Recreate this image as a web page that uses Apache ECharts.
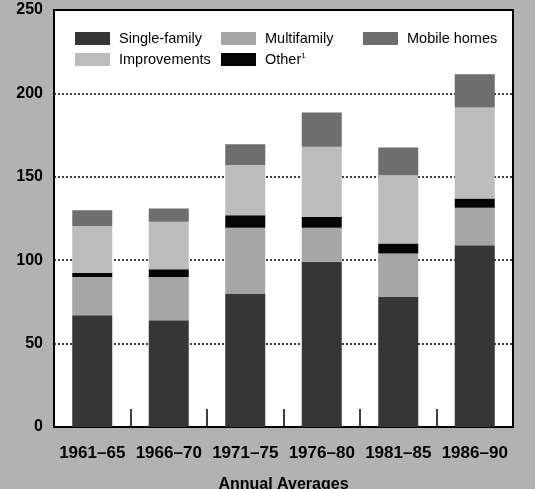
<!DOCTYPE html>
<html>
<head>
<meta charset="utf-8">
<script src="https://cdn.jsdelivr.net/npm/echarts@6/dist/echarts.min.js"></script>
<style>
html,body{margin:0;padding:0;background:#b2b2b2;}
#chart{width:535px;height:489px;}
</style>
</head>
<body>
<div id="chart"></div>
<script>
var categories = ['1961–65','1966–70','1971–75','1976–80','1981–85','1986–90'];
var singleFamily = [67, 64, 80, 99, 78, 109];
var multifamily = [23, 26, 39.5, 20.5, 26, 22.5];
var other = [2.5, 4.5, 7.5, 6.5, 6, 5.5];
var improvements = [28, 28.5, 30, 42, 41, 54.5];
var mobileHomes = [9.5, 8, 12.5, 20.5, 16.5, 20];
var yTicks = [0, 50, 100, 150, 200, 250];

var FONT = '"Liberation Sans", Arial, sans-serif';
var colors = {
  'Single-family': '#363636',
  'Multifamily': '#a6a6a6',
  'Mobile homes': '#6e6e6e',
  'Improvements': '#bcbcbc',
  'Other': '#050505'
};

function legendBox(names, left) {
  return {
    orient: 'vertical',
    left: left,
    top: 31,
    padding: 0,
    itemWidth: 35,
    itemHeight: 13,
    itemGap: 6,
    selectedMode: false,
    icon: 'rect',
    data: names,
    formatter: function (n) { return n === 'Other' ? 'Other{sup|1}' : n; },
    textStyle: {
      fontFamily: FONT, fontSize: 14.5, color: '#000',
      padding: [0, 0, 0, 4],
      rich: { sup: { fontFamily: FONT, fontSize: 8, verticalAlign: 'top', padding: [0,0,6,0] } }
    }
  };
}

function mk(name, data) {
  return {
    name: name, type: 'bar', stack: 'total', data: data,
    barWidth: 40,
    itemStyle: { color: colors[name] },
    emphasis: { disabled: true }
  };
}

var chart = echarts.init(document.getElementById('chart'), null, { renderer: 'canvas' });
chart.setOption({
  animation: false,
  backgroundColor: '#b2b2b2',
  grid: { left: 54, right: 22, top: 10, bottom: 62, outerBoundsMode: 'none', containLabel: false,
          show: true, backgroundColor: '#ffffff', borderColor: '#000', borderWidth: 2 },
  legend: [
    legendBox(['Single-family', 'Improvements'], 75),
    legendBox(['Multifamily', 'Other'], 221),
    legendBox(['Mobile homes'], 363)
  ],
  graphic: [{
    type: 'text', left: 22, top: -13,
    style: { text: 'Billions of 1987 dollars', fontFamily: FONT, fontSize: 17, fontWeight: 'bold', fill: '#000' }
  }],
  xAxis: {
    type: 'category', data: categories, boundaryGap: true,
    axisLine: { lineStyle: { color: '#000', width: 2 } },
    axisTick: { show: true, inside: true, interval: 0, alignWithLabel: false, length: 18, lineStyle: { color: '#000', width: 1.5 } },
    axisLabel: { interval: 0, fontFamily: FONT, fontSize: 17, fontWeight: 'bold', color: '#000', margin: 18 },
    name: 'Annual Averages', nameLocation: 'middle', nameGap: 50,
    nameTextStyle: { fontFamily: FONT, fontSize: 16, fontWeight: 'bold', color: '#000' }
  },
  yAxis: {
    type: 'value', min: yTicks[0], max: yTicks[yTicks.length - 1], interval: 50,
    axisLine: { show: false }, axisTick: { show: false },
    axisLabel: { fontFamily: FONT, fontSize: 16, fontWeight: 'bold', color: '#000', margin: 11 },
    splitLine: { show: true, lineStyle: { color: '#000', type: [2, 2], width: 1.5 } }
  },
  series: [
    mk('Single-family', singleFamily),
    mk('Multifamily', multifamily),
    mk('Other', other),
    mk('Improvements', improvements),
    mk('Mobile homes', mobileHomes)
  ]
});
</script>
</body>
</html>
